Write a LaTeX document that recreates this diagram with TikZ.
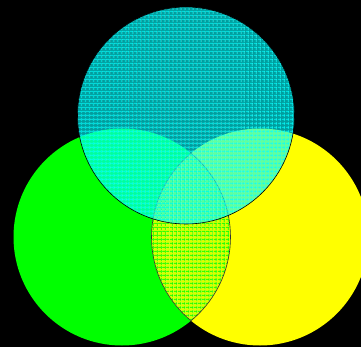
\documentclass[tikz,border=0pt]{standalone}
\usetikzlibrary{patterns.meta}
\definecolor{aqua}{RGB}{0,255,255}
\definecolor{lime}{RGB}{0,255,0}
\definecolor{yel}{RGB}{255,255,0}
\tikzset{
  circ/.style={line width=0.6pt, draw=black!80},
  gridH/.style={pattern={Lines[angle=0, distance=4pt, line width=1pt]}},
  gridV/.style={pattern={Lines[angle=90, distance=4pt, line width=1pt]}},
}
\begin{document}
\begin{tikzpicture}[x=1pt,y=-1pt]
\fill[black] (0,0) rectangle (361,347);
\useasboundingbox (0,0) rectangle (361,347);
\coordinate (cg) at (122,237);
\coordinate (cy) at (260,237);
\coordinate (ct) at (186,115.5);
% green and yellow circles
\fill[lime] (cg) circle[radius=108.5pt];
\fill[yel] (cy) circle[radius=108.5pt];
% lens: yellow with green grid
\begin{scope}
  \clip (cg) circle[radius=108.5pt];
  \fill[yel!85!lime] (cy) circle[radius=108.5pt];
  \fill[gridH, pattern color=lime, opacity=0.75] (cy) circle[radius=108.5pt];
  \fill[gridV, pattern color=lime, opacity=0.75] (cy) circle[radius=108.5pt];
\end{scope}
\begin{scope}
  \clip (cy) circle[radius=108.5pt];
  \draw[circ] (cg) circle[radius=108.5pt];
\end{scope}
\begin{scope}
  \clip (cg) circle[radius=108.5pt];
  \draw[circ] (cy) circle[radius=108.5pt];
\end{scope}
% top cyan circle, semi-transparent with grid
\fill[aqua, opacity=0.62] (ct) circle[radius=108.5pt];
\fill[gridH, pattern color=aqua, opacity=0.6] (ct) circle[radius=108.5pt];
\fill[gridV, pattern color=aqua, opacity=0.6] (ct) circle[radius=108.5pt];
\draw[circ, draw=black] (ct) circle[radius=108.5pt];
\end{tikzpicture}
\end{document}
